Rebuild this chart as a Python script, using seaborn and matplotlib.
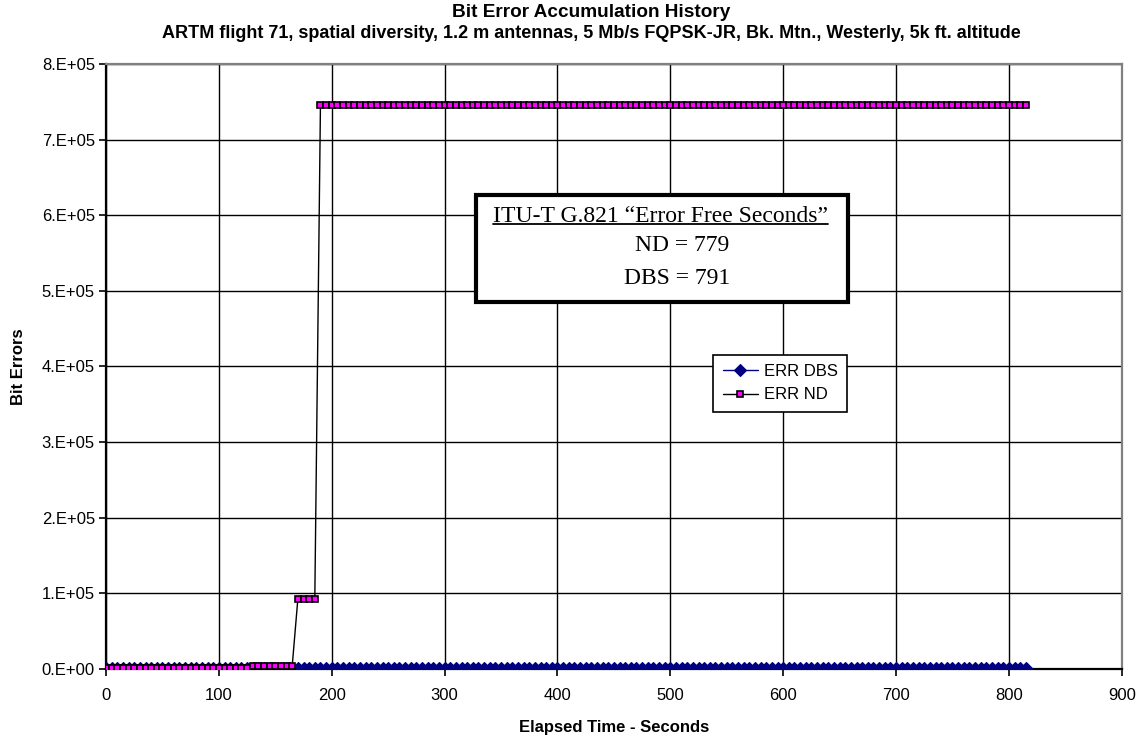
import numpy as np
import pandas as pd
import matplotlib

matplotlib.use('Agg')
import matplotlib.pyplot as plt
import seaborn as sns
from matplotlib.ticker import FuncFormatter, MultipleLocator
from matplotlib.patches import Rectangle

# logger writes one point every few seconds
step = 5

# ERR ND: flat stretches of the running error count (start s, end s, bit errors)
nd_start = [0, 130, 170, 190]
nd_end = [125, 165, 185, 815]
nd_level = [1000, 4500, 93000, 746000]

# ERR DBS stays at (almost) zero for the whole run
dbs_start = [0]
dbs_end = [815]
dbs_level = [800]

efs_title = 'ITU-T G.821 \u201cError Free Seconds\u201d'
efs_lines = ['ND = 779', 'DBS = 791']


def expand(starts, ends, levels):
    # one sample per logger tick inside every flat stretch
    t, v = [], []
    for s, e, lv in zip(starts, ends, levels):
        seg = np.arange(s, e + 1, step)
        t.extend(seg)
        v.extend([lv] * len(seg))
    return pd.DataFrame({'t': t, 'err': v})


dbs = expand(dbs_start, dbs_end, dbs_level)
nd = expand(nd_start, nd_end, nd_level)

sns.set_style('white')
plt.rcParams['font.family'] = ['Liberation Sans', 'DejaVu Sans']
plt.rcParams['text.color'] = 'black'
plt.rcParams['axes.labelcolor'] = 'black'
plt.rcParams['xtick.color'] = 'black'
plt.rcParams['ytick.color'] = 'black'

fig = plt.figure(figsize=(11.4, 7.4), dpi=100)
ax = fig.add_axes([0.093, 0.096, 0.891, 0.8176])

sns.lineplot(data=dbs, x='t', y='err', ax=ax, color='#000080', marker='D',
             markersize=6.5, markeredgecolor='#000080', markeredgewidth=0.8,
             linewidth=1, label='ERR DBS', estimator=None, zorder=3)
sns.lineplot(data=nd, x='t', y='err', ax=ax, color='black', marker='s',
             markersize=5, markerfacecolor='#FF00FF', markeredgecolor='black',
             markeredgewidth=1.2, linewidth=1, label='ERR ND', estimator=None, zorder=4)

ax.set_xlim(0, 900)
ax.set_ylim(0, 800000)
ax.xaxis.set_major_locator(MultipleLocator(100))
ax.yaxis.set_major_locator(MultipleLocator(100000))
ax.yaxis.set_major_formatter(FuncFormatter(lambda v, p: ('%.0E' % v).replace('E', '.E')))

ax.set_axisbelow(True)
ax.grid(True, color='black', linewidth=1)
for s in ['left', 'bottom']:
    ax.spines[s].set_color('black')
    ax.spines[s].set_linewidth(1.6)
for s in ['top', 'right']:
    ax.spines[s].set_color('#808080')
    ax.spines[s].set_linewidth(1.6)

ax.tick_params(axis='x', direction='out', length=5, width=1.2, color='black',
               labelsize=12, pad=9, bottom=True)
ax.tick_params(axis='y', direction='out', length=5, width=1.2, color='black',
               labelsize=12, pad=3, left=True)

ax.set_xlabel('Elapsed Time - Seconds', fontsize=12, fontweight='bold')
ax.set_ylabel('Bit Errors', fontsize=12, fontweight='bold')
ax.xaxis.label.set_va('center')
ax.yaxis.label.set_va('center')
ax.xaxis.set_label_coords(0.5, -0.096)
ax.yaxis.set_label_coords(-0.086, 0.5)

# chart titles sit over the whole chart area, not just the plot
xc = 0.519
fig.text(xc, 0.983, 'Bit Error Accumulation History', ha='center', va='center',
         fontsize=13.7, fontweight='bold')
fig.text(xc, 0.955, 'ARTM flight 71, spatial diversity, 1.2 m antennas, 5 Mb/s FQPSK-JR, '
         'Bk. Mtn., Westerly, 5k ft. altitude', ha='center', va='center',
         fontsize=13, fontweight='bold')

leg = ax.legend(loc='upper left', bbox_to_anchor=(0.598, 0.519), frameon=True,
                fancybox=False, edgecolor='black', framealpha=1, fontsize=12,
                handlelength=2.1, handletextpad=0.4, borderpad=0.55,
                labelspacing=0.5, borderaxespad=0)
leg.get_frame().set_linewidth(1.2)

# G.821 note box
ax.add_patch(Rectangle((0.364, 0.607), 0.366, 0.176, transform=ax.transAxes,
                       facecolor='white', edgecolor='black', linewidth=3, zorder=6))
serif = ['Liberation Serif', 'DejaVu Serif']
head = ax.text(0.546, 0.748, efs_title, transform=ax.transAxes, ha='center', va='center',
               fontsize=17, family=serif, zorder=7)
ax.text(0.567, 0.700, efs_lines[0], transform=ax.transAxes, ha='center', va='center',
        fontsize=17, family=serif, zorder=7)
ax.text(0.562, 0.646, efs_lines[1], transform=ax.transAxes, ha='center', va='center',
        fontsize=17, family=serif, zorder=7)

# underline the heading
fig.canvas.draw()
bb = head.get_window_extent().transformed(ax.transAxes.inverted())
ax.plot([bb.x0, bb.x1], [bb.y0 + 0.004, bb.y0 + 0.004], transform=ax.transAxes,
        color='black', linewidth=1.3, zorder=7)

fig.savefig('out.png', dpi=100)
